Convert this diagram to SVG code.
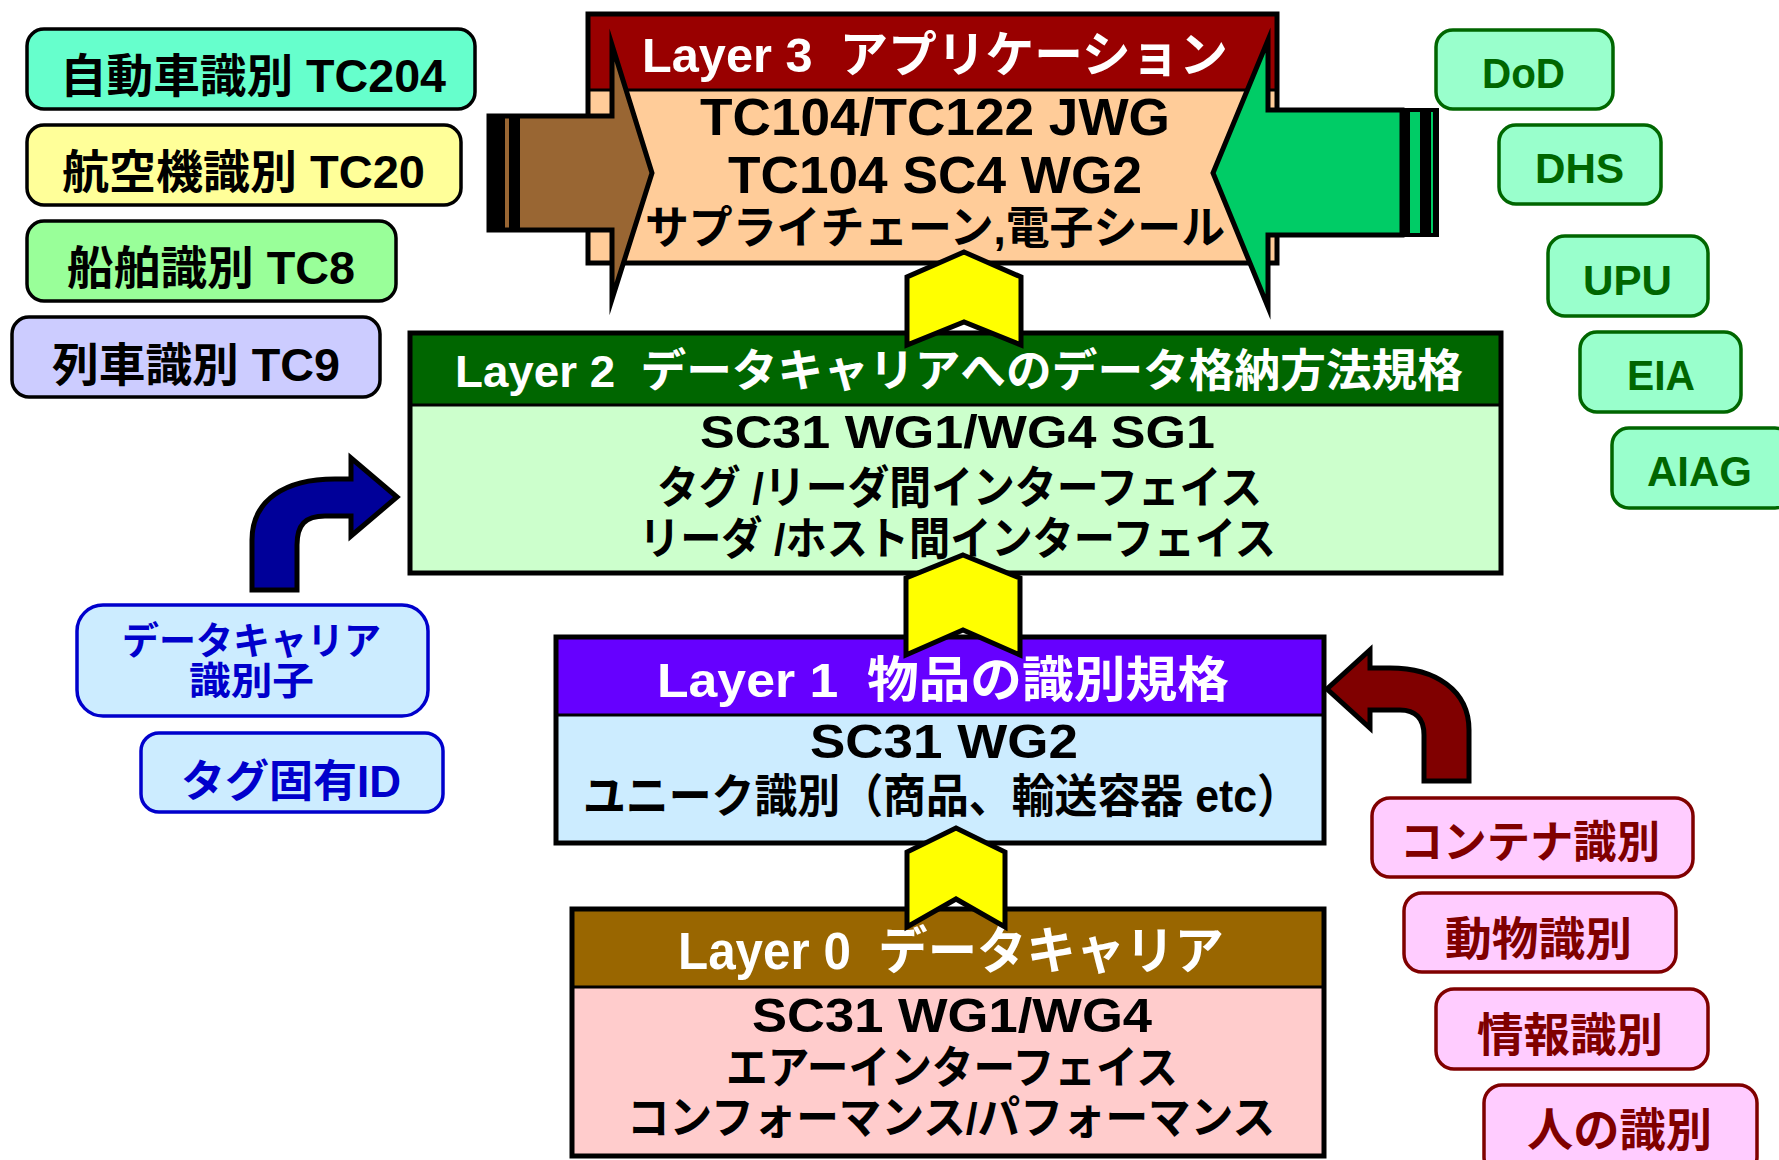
<svg xmlns="http://www.w3.org/2000/svg" width="1779" height="1160" viewBox="0 0 1779 1160">
  <style>
    .t { font-family: "Liberation Sans", "Noto Sans CJK JP", sans-serif; font-weight: bold; }
    .w { fill: #ffffff; }
    .k { fill: #000000; }
    .frame { fill: none; stroke: #000; stroke-width: 5; }
    .sep { stroke: #000; stroke-width: 3; }
    .tagL { stroke: #000; stroke-width: 3.5; }
    .org { fill: #99FFCC; stroke: #006600; stroke-width: 3.5; }
    .orgT { fill: #006600; }
    .dc { fill: #CCECFF; stroke: #0000CC; stroke-width: 3.5; }
    .dcT { fill: #0000CC; }
    .obj { fill: #FFCCFF; stroke: #800000; stroke-width: 3.5; }
    .objT { fill: #800000; }
    .chev { fill: #FFFF00; stroke: #000; stroke-width: 5; }
    .blk { stroke: #000; stroke-width: 5; }
  </style>

  <rect width="1779" height="1160" fill="#ffffff"/>

  <!-- Layer 3 -->
  <g id="layer3">
    <rect x="588" y="14" width="689" height="249" fill="#FFCC99"/>
    <rect x="588" y="14" width="689" height="76" fill="#990000"/>
    <line x1="588" y1="90" x2="1277" y2="90" class="sep"/>
    <rect x="588" y="14" width="689" height="249" class="frame"/>
    <text class="t w" x="642" y="72" font-size="49" textLength="586" lengthAdjust="spacingAndGlyphs">Layer 3&#160; アプリケーション</text>
    <text class="t k" x="700" y="135" font-size="51" textLength="470" lengthAdjust="spacingAndGlyphs">TC104/TC122 JWG</text>
    <text class="t k" x="728" y="193" font-size="51" textLength="414" lengthAdjust="spacingAndGlyphs">TC104 SC4 WG2</text>
    <text class="t k" x="645" y="244" font-size="45" textLength="580" lengthAdjust="spacingAndGlyphs">サプライチェーン,電子シール</text>
  </g>

  <!-- Layer 2 -->
  <g id="layer2">
    <rect x="410" y="333" width="1091" height="240" fill="#CCFFCC"/>
    <rect x="410" y="333" width="1091" height="72" fill="#006600"/>
    <line x1="410" y1="405" x2="1501" y2="405" class="sep"/>
    <rect x="410" y="333" width="1091" height="240" class="frame"/>
    <text class="t w" x="455" y="387" font-size="45" textLength="1008" lengthAdjust="spacingAndGlyphs">Layer 2&#160; データキャリアへのデータ格納方法規格</text>
    <text class="t k" x="700" y="448" font-size="47" textLength="515" lengthAdjust="spacingAndGlyphs">SC31 WG1/WG4 SG1</text>
    <text class="t k" x="657" y="504" font-size="45" textLength="605" lengthAdjust="spacingAndGlyphs">タグ /リーダ間インターフェイス</text>
    <text class="t k" x="639" y="555" font-size="45" textLength="637" lengthAdjust="spacingAndGlyphs">リーダ /ホスト間インターフェイス</text>
  </g>

  <!-- Layer 1 -->
  <g id="layer1">
    <rect x="556" y="637" width="768" height="206" fill="#CCECFF"/>
    <rect x="556" y="637" width="768" height="78" fill="#6600FF"/>
    <line x1="556" y1="715" x2="1324" y2="715" class="sep"/>
    <rect x="556" y="637" width="768" height="206" class="frame"/>
    <text class="t w" x="657" y="697" font-size="49" textLength="572" lengthAdjust="spacingAndGlyphs">Layer 1&#160; 物品の識別規格</text>
    <text class="t k" x="810" y="758" font-size="49" textLength="268" lengthAdjust="spacingAndGlyphs">SC31 WG2</text>
    <text class="t k" x="583" y="812" font-size="46" textLength="717" lengthAdjust="spacingAndGlyphs">ユニーク識別（商品、輸送容器 etc）</text>
  </g>

  <!-- Layer 0 -->
  <g id="layer0">
    <rect x="572" y="909" width="752" height="247" fill="#FFCCCC"/>
    <rect x="572" y="909" width="752" height="78" fill="#996600"/>
    <line x1="572" y1="987" x2="1324" y2="987" class="sep"/>
    <rect x="572" y="909" width="752" height="247" class="frame"/>
    <text class="t w" x="678" y="969" font-size="51" textLength="546" lengthAdjust="spacingAndGlyphs">Layer 0&#160; データキャリア</text>
    <text class="t k" x="752" y="1032" font-size="49" textLength="400" lengthAdjust="spacingAndGlyphs">SC31 WG1/WG4</text>
    <text class="t k" x="726" y="1084" font-size="45" textLength="452" lengthAdjust="spacingAndGlyphs">エアーインターフェイス</text>
    <text class="t k" x="627" y="1134" font-size="45" textLength="648" lengthAdjust="spacingAndGlyphs">コンフォーマンス/パフォーマンス</text>
  </g>

  <!-- Application domains (left) -->
  <g id="tc204">
    <rect x="27" y="29" width="448" height="80" rx="17" fill="#66FFCC" class="tagL"/>
    <text class="t k" x="60" y="92" font-size="46" textLength="386" lengthAdjust="spacingAndGlyphs">自動車識別 TC204</text>
  </g>
  <g id="tc20">
    <rect x="27" y="125" width="434" height="80" rx="17" fill="#FFFF99" class="tagL"/>
    <text class="t k" x="62" y="188" font-size="46" textLength="363" lengthAdjust="spacingAndGlyphs">航空機識別 TC20</text>
  </g>
  <g id="tc8">
    <rect x="27" y="221" width="369" height="80" rx="17" fill="#99FF99" class="tagL"/>
    <text class="t k" x="67" y="284" font-size="46" textLength="288" lengthAdjust="spacingAndGlyphs">船舶識別 TC8</text>
  </g>
  <g id="tc9">
    <rect x="12" y="317" width="368" height="80" rx="17" fill="#CCCCFF" class="tagL"/>
    <text class="t k" x="52" y="381" font-size="46" textLength="288" lengthAdjust="spacingAndGlyphs">列車識別 TC9</text>
  </g>

  <!-- Organisations (right) -->
  <g id="dod">
    <rect x="1436" y="30" width="177" height="79" rx="17" class="org"/>
    <text class="t orgT" x="1482" y="88" font-size="42" textLength="83" lengthAdjust="spacingAndGlyphs">DoD</text>
  </g>
  <g id="dhs">
    <rect x="1499" y="125" width="162" height="79" rx="17" class="org"/>
    <text class="t orgT" x="1535" y="183" font-size="42" textLength="89" lengthAdjust="spacingAndGlyphs">DHS</text>
  </g>
  <g id="upu">
    <rect x="1548" y="236" width="160" height="80" rx="17" class="org"/>
    <text class="t orgT" x="1583" y="295" font-size="42" textLength="89" lengthAdjust="spacingAndGlyphs">UPU</text>
  </g>
  <g id="eia">
    <rect x="1580" y="332" width="161" height="80" rx="17" class="org"/>
    <text class="t orgT" x="1627" y="390" font-size="42" textLength="68" lengthAdjust="spacingAndGlyphs">EIA</text>
  </g>
  <g id="aiag">
    <rect x="1612" y="428" width="180" height="80" rx="17" class="org"/>
    <text class="t orgT" x="1647" y="486" font-size="42" textLength="105" lengthAdjust="spacingAndGlyphs">AIAG</text>
  </g>

  <!-- Data carrier identifiers (left) -->
  <g id="dc-id">
    <rect x="77" y="605" width="351" height="111" rx="26" class="dc"/>
    <text class="t dcT" x="122" y="654" font-size="38" textLength="259" lengthAdjust="spacingAndGlyphs">データキャリア</text>
    <text class="t dcT" x="189" y="694" font-size="38" textLength="125" lengthAdjust="spacingAndGlyphs">識別子</text>
  </g>
  <g id="tag-id">
    <rect x="141" y="733" width="302" height="79" rx="18" class="dc"/>
    <text class="t dcT" x="181" y="797" font-size="44" textLength="220" lengthAdjust="spacingAndGlyphs">タグ固有ID</text>
  </g>

  <!-- Identified objects (right) -->
  <g id="container">
    <rect x="1372" y="798" width="321" height="79" rx="18" class="obj"/>
    <text class="t objT" x="1400" y="858" font-size="44" textLength="260" lengthAdjust="spacingAndGlyphs">コンテナ識別</text>
  </g>
  <g id="animal">
    <rect x="1404" y="893" width="272" height="79" rx="18" class="obj"/>
    <text class="t objT" x="1445" y="955" font-size="46" textLength="187" lengthAdjust="spacingAndGlyphs">動物識別</text>
  </g>
  <g id="information">
    <rect x="1436" y="989" width="272" height="80" rx="18" class="obj"/>
    <text class="t objT" x="1477" y="1051" font-size="46" textLength="186" lengthAdjust="spacingAndGlyphs">情報識別</text>
  </g>
  <g id="person">
    <rect x="1484" y="1085" width="273" height="90" rx="18" class="obj"/>
    <text class="t objT" x="1527" y="1146" font-size="46" textLength="185" lengthAdjust="spacingAndGlyphs">人の識別</text>
  </g>

  <!-- Connectors -->
  <g id="connectors">
    <!-- stacked chevrons between layers -->
    <polygon class="chev" points="964,252 1021,277 1021,345 964,322 907,345 907,277"/>
    <polygon class="chev" points="963,555 1020,578 1020,655 963,630 906,655 906,578"/>
    <polygon class="chev" points="956,828 1005,852 1005,927 956,899 907,927 907,852"/>

    <!-- block arrow into Layer 3 from the left -->
    <path class="blk" fill="#996633" stroke-miterlimit="10" d="M489,116 L612,116 L612,45 L652,173 L612,299 L612,230 L489,230 Z"/>
    <rect x="489" y="114" width="16" height="118" fill="#000"/>
    <rect x="509" y="114" width="11" height="118" fill="#000"/>

    <!-- block arrow into Layer 3 from the right -->
    <path class="blk" fill="#00CC66" stroke-miterlimit="10" d="M1402,110 L1268,110 L1268,40 L1213,173 L1268,307 L1268,235 L1402,235 Z"/>
    <rect x="1400" y="108" width="39" height="129" fill="#000"/>
    <rect x="1410" y="112" width="10" height="121" fill="#00CC66"/>
    <rect x="1431" y="112" width="2" height="121" fill="#00CC66"/>

    <!-- bent arrow into Layer 2 -->
    <path class="blk" fill="#000099" d="M252,590 L252,540 C252,500 285,479 335,479 L351,479 L351,458 L397,497 L351,536 L351,516 L325,516 C305,516 297,525 297,545 L297,590 Z"/>

    <!-- bent arrow into Layer 1 -->
    <path class="blk" fill="#800000" d="M1469,781 L1469,730 C1469,690 1435,668 1390,668 L1370,668 L1370,650 L1327,689 L1370,728 L1370,710 L1400,710 C1415,710 1424,718 1424,735 L1424,781 Z"/>
  </g>
</svg>
